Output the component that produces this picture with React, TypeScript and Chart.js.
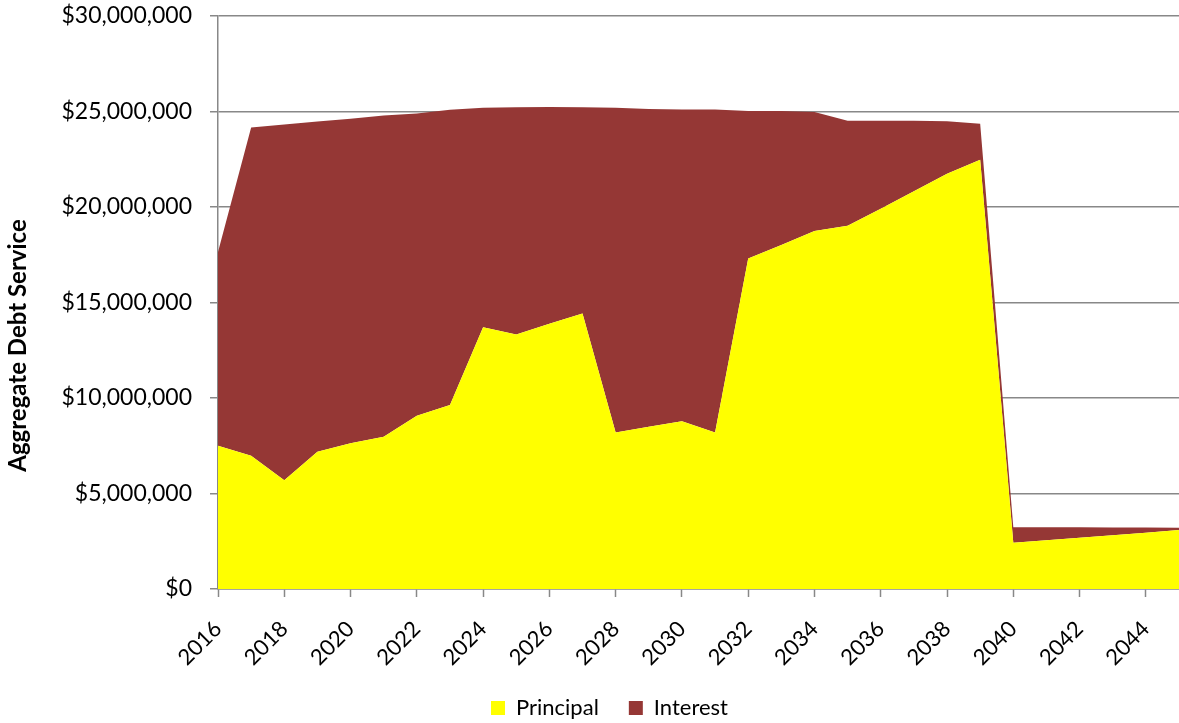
import React, { useEffect, useRef } from 'react';
import { Chart, registerables } from 'chart.js';

Chart.register(...registerables);

const years = [
  '2016', '2017', '2018', '2019', '2020', '2021', '2022', '2023', '2024', '2025',
  '2026', '2027', '2028', '2029', '2030', '2031', '2032', '2033', '2034', '2035',
  '2036', '2037', '2038', '2039', '2040', '2041', '2042', '2043', '2044', '2045',
];

const principal = [
  7500000, 6980000, 5690000, 7190000, 7630000, 7970000, 9070000, 9630000, 13700000, 13330000,
  13890000, 14430000, 8200000, 8500000, 8780000, 8200000, 17300000, 18010000, 18750000, 19020000,
  19910000, 20820000, 21740000, 22470000, 2420000, 2550000, 2680000, 2820000, 2950000, 3090000,
];

const interest = [
  10150000, 17180000, 18630000, 17290000, 16990000, 16820000, 15830000, 15460000, 11500000, 11890000,
  11340000, 10790000, 17000000, 16630000, 16320000, 16900000, 7720000, 7010000, 6220000, 5490000,
  4600000, 3690000, 2750000, 1890000, 810000, 680000, 550000, 400000, 270000, 120000,
];

const yMin = 0;
const yMax = 30000000;
const yStep = 5000000;

const yTitle = 'Aggregate Debt Service';
const seriesNames = ['Principal', 'Interest'];
const seriesColors = ['#FFFF00', '#953735'];

export default function App() {
  const ref = useRef<HTMLCanvasElement>(null);

  useEffect(() => {
    document.body.style.margin = '0';
    if (!ref.current) return;
    const adjustBoxes = {
      id: 'adjustBoxes',
      afterLayout(chart: any) {
        const l = chart.legend;
        if (l) {
          l.left += 20;
          l.right += 20;
          l.top += 6;
          l.bottom += 6;
        }
        const x = chart.scales.x;
        if (x) {
          x.bottom = chart.height;
        }
      },
      afterDraw(chart: any) {
        const ctx = chart.ctx;
        const area = chart.chartArea;
        ctx.save();
        ctx.translate(18, (area.top + area.bottom) / 2 + 43);
        ctx.rotate(-Math.PI / 2);
        ctx.textAlign = 'center';
        ctx.textBaseline = 'middle';
        ctx.fillStyle = '#000';
        ctx.font = 'bold 24px Lato';
        ctx.fillText(yTitle, 0, 0);
        ctx.restore();
      },
    };
    const chart = new Chart(ref.current, {
      type: 'line',
      data: {
        labels: years,
        datasets: [
          {
            label: seriesNames[0],
            data: principal,
            backgroundColor: seriesColors[0],
            borderColor: seriesColors[0],
            borderWidth: 0,
            pointRadius: 0,
            fill: 'origin',
            tension: 0,
          },
          {
            label: seriesNames[1],
            data: interest,
            backgroundColor: seriesColors[1],
            borderColor: seriesColors[1],
            borderWidth: 0,
            pointRadius: 0,
            fill: '-1',
            tension: 0,
          },
        ],
      },
      options: {
        responsive: false,
        animation: false,
        layout: { padding: { top: 16, right: 0, left: 0, bottom: 0 } },
        font: { family: 'Lato' },
        plugins: {
          tooltip: { enabled: false },
          legend: {
            position: 'bottom',
            labels: {
              boxWidth: 14,
              boxHeight: 14,
              padding: 30,
              color: '#000',
              font: { family: 'Lato', size: 22 },
            },
          },
        },
        scales: {
          x: {
            type: 'category',
            offset: false,
            grid: {
              display: true,
              drawOnChartArea: false,
              drawTicks: true,
              tickLength: 8,
              tickWidth: 1.5,
              tickColor: (ctx: any) => (ctx.index % 2 === 0 ? '#888888' : 'rgba(0,0,0,0)'),
            },
            border: { display: true, color: '#888888', width: 1.5 },
            ticks: {
              autoSkip: false,
              maxRotation: 45,
              minRotation: 45,
              padding: 19,
              color: '#000',
              font: { family: 'Lato', size: 22 },
              callback: (_v: any, i: number) => (i % 2 === 0 ? years[i] : ''),
            },
            afterFit: (scale: any) => {
              scale.height = 72;
              scale.paddingRight = 0;
            },
          },
          y: {
            stacked: true,
            min: yMin,
            max: yMax,
            grid: {
              color: '#888888',
              lineWidth: 1.5,
              drawTicks: true,
              tickLength: 8,
            },
            border: { display: true, color: '#888888', width: 1.5 },
            ticks: {
              stepSize: yStep,
              padding: 18,
              color: '#000',
              font: { family: 'Lato', size: 23 },
              callback: (v: any) => '$' + Number(v).toLocaleString('en-US'),
            },
            title: { display: false },
            afterFit: (scale: any) => {
              scale.width = 218;
              scale.paddingTop = 0;
              scale.paddingBottom = 0;
            },
          },
        },
      },
      plugins: [adjustBoxes],
    } as any);
    return () => chart.destroy();
  }, []);

  return (
    <div style={{ width: 1179, height: 723 }}>
      <canvas ref={ref} width={1179} height={723} style={{ display: 'block' }} />
    </div>
  );
}
